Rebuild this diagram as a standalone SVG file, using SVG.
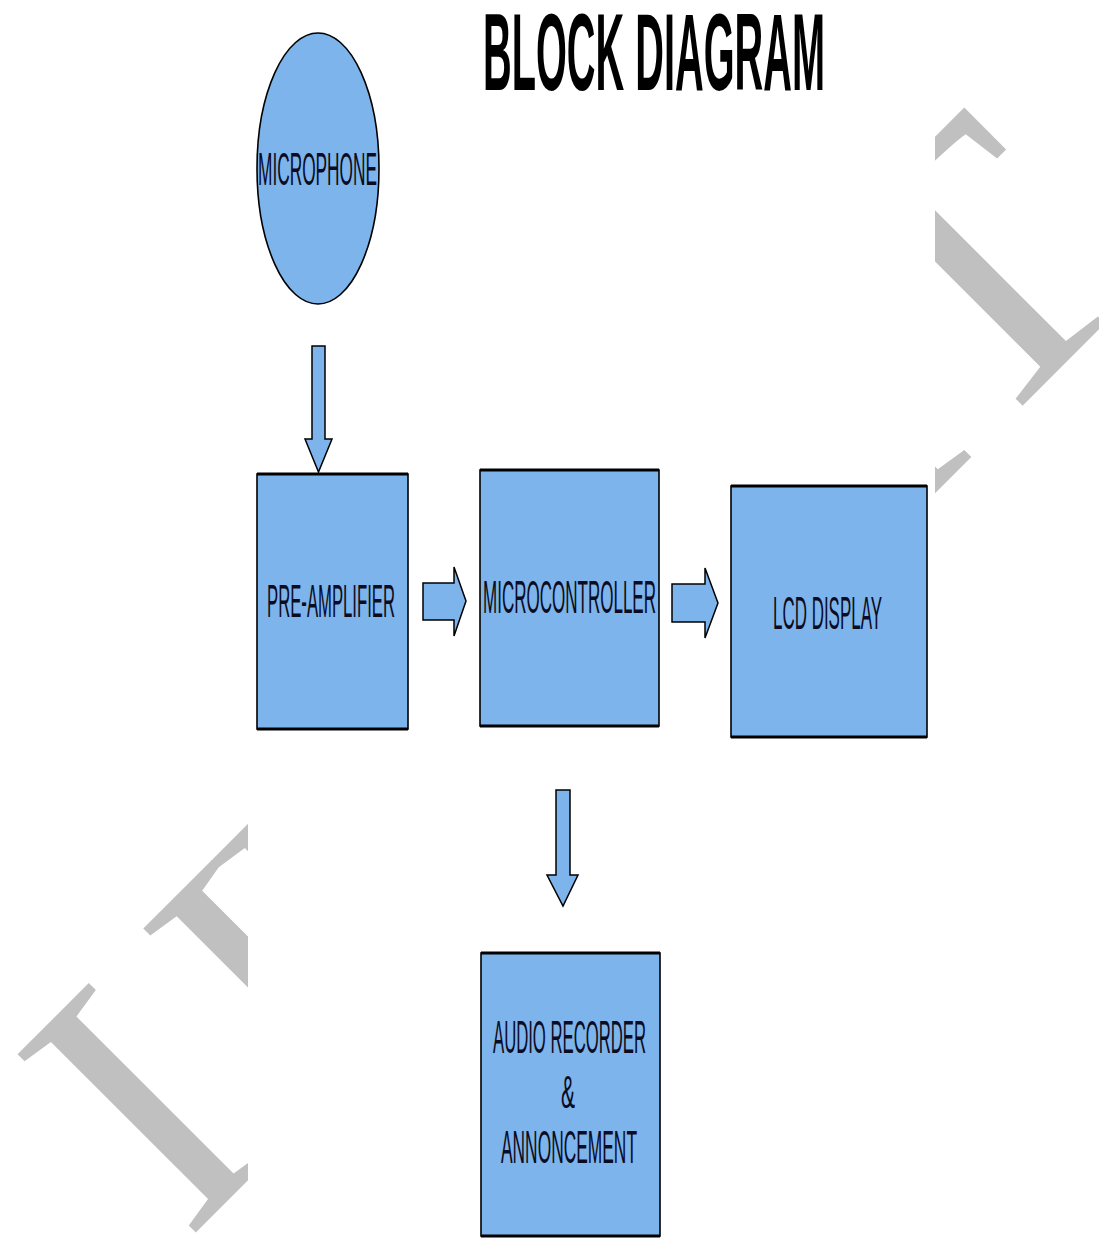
<svg xmlns="http://www.w3.org/2000/svg" width="1099" height="1239" viewBox="0 0 1099 1239">
<style>
.wm{font-family:"Liberation Serif","Times New Roman",serif;font-size:385px;fill:#c0c0c0}
.node{fill:#7db4eb;stroke:#000;stroke-width:1.6}
.edge{stroke:#000;stroke-width:3}
.arrow{fill:#7db4eb;stroke:#000;stroke-width:1.5;stroke-linejoin:miter}
.lbl{font-family:"Liberation Sans",Arial,sans-serif;font-size:46px;fill:#0b0b22;text-anchor:start}
.title{font-family:"Liberation Sans",Arial,sans-serif;font-size:109px;font-weight:bold;fill:#000}
</style>
<rect x="0" y="0" width="1099" height="1239" fill="#fff"/>
<g id="watermark" transform="rotate(-45)">
<text class="wm" x="-747" y="1010">I</text>
<text class="wm" x="-600" y="1010">J</text>
<text class="wm" x="-470" y="1010">E</text>
<text class="wm" x="249" y="1010">I</text>
<text class="wm" x="377" y="1010">T</text>
</g>
<rect x="248" y="0" width="687" height="1239" fill="#fff"/>
<g id="title">
<text class="title" x="483" y="90" textLength="342" lengthAdjust="spacingAndGlyphs">BLOCK DIAGRAM</text>
</g>
<g id="connectors">
<polygon class="arrow" points="312,346 325,346 325,439 332,439 318.5,472 305,439 312,439"/>
<polygon class="arrow" points="423,583 454,583 454,567 466,601 454,636 454,620 423,620"/>
<polygon class="arrow" points="672,584 705,584 705,568 718,603 705,638 705,622 672,622"/>
<polygon class="arrow" points="556,790 570,790 570,875 578,875 563,906 547,875 556,875"/>
</g>
<g id="microphone">
<ellipse class="node" cx="318" cy="168.5" rx="61" ry="135.5"/>
<text class="lbl" x="258" y="185" textLength="119" lengthAdjust="spacingAndGlyphs">MICROPHONE</text>
</g>
<g id="preamplifier">
<rect class="node" x="257" y="474" width="151" height="255"/>
<line class="edge" x1="257" y1="474" x2="408" y2="474"/>
<line class="edge" x1="257" y1="729" x2="408" y2="729"/>
<text class="lbl" x="267" y="617" textLength="128" lengthAdjust="spacingAndGlyphs">PRE-AMPLIFIER</text>
</g>
<g id="microcontroller">
<rect class="node" x="480" y="470" width="179" height="256"/>
<line class="edge" x1="480" y1="470" x2="659" y2="470"/>
<line class="edge" x1="480" y1="726" x2="659" y2="726"/>
<text class="lbl" x="483" y="613" textLength="173" lengthAdjust="spacingAndGlyphs">MICROCONTROLLER</text>
</g>
<g id="lcd-display">
<rect class="node" x="731" y="486" width="196" height="251"/>
<line class="edge" x1="731" y1="486" x2="927" y2="486"/>
<line class="edge" x1="731" y1="737" x2="927" y2="737"/>
<text class="lbl" x="773" y="629" textLength="109" lengthAdjust="spacingAndGlyphs">LCD DISPLAY</text>
</g>
<g id="audio-recorder">
<rect class="node" x="481" y="953" width="179" height="283"/>
<line class="edge" x1="481" y1="953" x2="660" y2="953"/>
<line class="edge" x1="481" y1="1236" x2="660" y2="1236"/>
<text class="lbl" x="493" y="1053" textLength="153" lengthAdjust="spacingAndGlyphs">AUDIO RECORDER</text>
<text class="lbl" x="561" y="1108" textLength="14" lengthAdjust="spacingAndGlyphs">&amp;</text>
<text class="lbl" x="501" y="1163" textLength="136" lengthAdjust="spacingAndGlyphs">ANNONCEMENT</text>
</g>
</svg>
